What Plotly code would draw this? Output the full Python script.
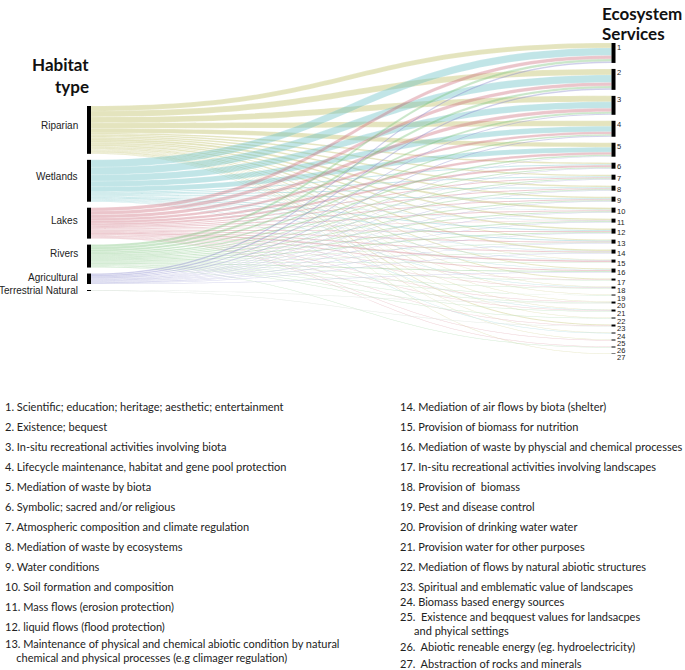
import plotly.graph_objects as go

# ---- data -------------------------------------------------------------
HABITATS = ["Riparian", "Wetlands", "Lakes", "Rivers", "Agricultural", "Terrestrial Natural"]
SERVICES = [str(i) for i in range(1, 28)]

# flows from each habitat type to services 1..27
RIPARIAN = [10, 12, 12, 11, 9, 3, 3, 3, 3, 4, 3, 3, 2, 3, 1, 2, 2, 1, 1, 1, 1, 1, 2, 1, 1, 0, 1]
WETLANDS = [15, 15, 13, 11, 10, 2, 2, 2, 2, 1, 1, 2, 2, 1, 1, 1, 0, 1, 0, 0, 1, 0, 0, 1, 0, 0, 0]
LAKES = [7, 7, 7, 5, 5, 4, 2, 2, 2, 2, 1, 2, 2, 2, 3, 2, 1, 1, 0, 1, 1, 0, 1, 0, 1, 1, 0]
RIVERS = [5, 5, 4, 3, 3, 2, 2, 2, 2, 2, 2, 2, 1, 1, 1, 2, 1, 1, 1, 1, 1, 1, 0, 0, 0, 1, 0]
AGRICULTURAL = [3, 3, 2, 2, 1, 1, 1, 1, 1, 1, 1, 1, 1, 1, 0, 1, 0, 0, 0, 0, 0, 0, 0, 0, 0, 0, 0]
TERRESTRIAL = [0, 0, 0, 0, 0, 0, 0, 0, 0, 0, 0, 0, 0, 0, 0, 0, 0, 0, 0, 1, 0, 0, 1, 0, 0, 0, 0]

SERVICE_NAMES = [
    "1. Scientific; education; heritage; aesthetic; entertainment",
    "2. Existence; bequest",
    "3. In-situ recreational activities involving biota",
    "4. Lifecycle maintenance, habitat and gene pool protection",
    "5. Mediation of waste by biota",
    "6. Symbolic; sacred and/or religious",
    "7. Atmospheric composition and climate regulation",
    "8. Mediation of waste by ecosystems",
    "9. Water conditions",
    "10. Soil formation and composition",
    "11. Mass flows (erosion protection)",
    "12. liquid flows (flood protection)",
    "13. Maintenance of physical and chemical abiotic condition by natural<br>"
    "\u00a0\u00a0\u00a0\u00a0chemical and physical processes (e.g climager regulation)",
    "14. Mediation of air flows by biota (shelter)",
    "15. Provision of biomass for nutrition",
    "16. Mediation of waste by physcial and chemical processes",
    "17. In-situ recreational activities involving landscapes",
    "18. Provision of\u00a0\u00a0biomass",
    "19. Pest and disease control",
    "20. Provision of drinking water water",
    "21. Provision water for other purposes",
    "22. Mediation of flows by natural abiotic structures",
    "23. Spiritual and emblematic value of landscapes",
    "24. Biomass based energy sources",
    "25.\u00a0\u00a0Existence and beqquest values for landsacpes<br>"
    "\u00a0\u00a0\u00a0\u00a0\u00a0and phyical settings",
    "26.\u00a0\u00a0Abiotic reneable energy (eg. hydroelectricity)",
    "27.\u00a0\u00a0Abstraction of rocks and minerals",
]

# ---- style / layout constants -----------------------------------------
W, H_FIG = 685, 670
LINK_COLORS = [
    "rgba(190, 190, 100, 0.42)",
    "rgba(100, 190, 196, 0.40)",
    "rgba(205, 110, 125, 0.40)",
    "rgba(122, 196, 122, 0.40)",
    "rgba(115, 115, 195, 0.36)",
    "rgba(160, 185, 160, 0.32)",
]
NODE_PAD = 6
TOP_PX, BOTTOM_PX = 43, 354          # vertical extent of the sankey
LEFT_X_PX, RIGHT_X_PX = 89, 613.5    # node column centres
LABEL_FONT = "Liberation Sans, Arial, sans-serif"
TEXT_FONT = "Lato, sans-serif"

flows = [RIPARIAN, WETLANDS, LAKES, RIVERS, AGRICULTURAL, TERRESTRIAL]

# ---- node geometry (mimic d3-sankey stacking, centred columns) --------
span_h = BOTTOM_PX - TOP_PX
hab_tot = [sum(r) for r in flows]
svc_tot = [sum(c) for c in zip(*flows)]
total = sum(svc_tot)
n_max = max(len(HABITATS), len(SERVICES))
ky = (span_h - (n_max - 1) * NODE_PAD) / total


def stack(totals):
    heights = [t * ky for t in totals]
    span = sum(heights) + (len(heights) - 1) * NODE_PAD
    y = (span_h - span) / 2
    tops, centers = [], []
    for h in heights:
        tops.append(y)
        centers.append(y + h / 2)
        y += h + NODE_PAD
    return heights, tops, centers


hab_h, hab_top, hab_c = stack(hab_tot)
svc_h, svc_top, svc_c = stack(svc_tot)

node_x = [LEFT_X_PX / W] * len(HABITATS) + [RIGHT_X_PX / W] * len(SERVICES)
node_y = [c / span_h for c in hab_c] + [c / span_h for c in svc_c]

src, tgt, val, col = [], [], [], []
for i, row in enumerate(flows):
    for j, v in enumerate(row):
        if v > 0:
            src.append(i)
            tgt.append(len(HABITATS) + j)
            val.append(v)
            col.append(LINK_COLORS[i])

fig = go.Figure(go.Sankey(
    arrangement="fixed",
    domain=dict(x=[0, 1], y=[1 - BOTTOM_PX / H_FIG, 1 - TOP_PX / H_FIG]),
    node=dict(
        label=HABITATS + SERVICES,
        x=node_x, y=node_y,
        pad=NODE_PAD, thickness=4,
        color="black", line=dict(width=0),
    ),
    link=dict(source=src, target=tgt, value=val, color=col,
              line=dict(color="white", width=0.15)),
    textfont=dict(color="rgba(0,0,0,0)", size=1),
))


def py(px):
    return 1 - px / H_FIG


ann = []
# habitat labels (left of nodes)
for name, h, c in zip(HABITATS, hab_h, hab_c):
    ann.append(dict(x=80 / W, y=py(TOP_PX + c - 0.1 * h), text=name, xanchor="right",
                    yanchor="middle", font=dict(family=LABEL_FONT, size=10, color="#222")))
# service numbers (right of nodes)
for name, t in zip(SERVICES, svc_top):
    ann.append(dict(x=616 / W, y=py(TOP_PX + t + 4), text=name, xanchor="left",
                    yanchor="middle", borderpad=0,
                    font=dict(family=LABEL_FONT, size=7.5, color="#222")))

# column titles
title_font = dict(family=TEXT_FONT, size=17, color="#111")
for text, x, y, anchor in [("Habitat", 91, 65, "right"), ("type", 91, 86, "right"),
                           ("Ecosystem", 600, 13, "left"), ("Services", 600, 33, "left")]:
    ann.append(dict(x=x / W, y=py(y), text=f"<b>{text}</b>", xanchor=anchor,
                    yanchor="middle", font=title_font))

# service legend, two columns
left_y = [405 + 20 * i for i in range(12)] + [642]
right_y = [405 + 20 * i for i in range(10)] + [600, 615, 645, 662]
for name, y in zip(SERVICE_NAMES[:13], left_y):
    ann.append(dict(x=3 / W, y=py(y - 7), text=name, xanchor="left", yanchor="top",
                    align="left", font=dict(family=TEXT_FONT, size=11, color="#222")))
for name, y in zip(SERVICE_NAMES[13:], right_y):
    ann.append(dict(x=398 / W, y=py(y - 7), text=name, xanchor="left", yanchor="top",
                    align="left", font=dict(family=TEXT_FONT, size=11, color="#222")))

for a in ann:
    a.update(xref="paper", yref="paper", showarrow=False)

fig.update_layout(
    width=W, height=H_FIG,
    margin=dict(l=0, r=0, t=0, b=0),
    paper_bgcolor="white", plot_bgcolor="white",
    annotations=ann,
    showlegend=False,
)

# drop the browser's default body margin so the figure sits at the page corner
fig.write_html("out.html", config={"displayModeBar": False},
               post_script="document.body.style.margin = '0px';")
